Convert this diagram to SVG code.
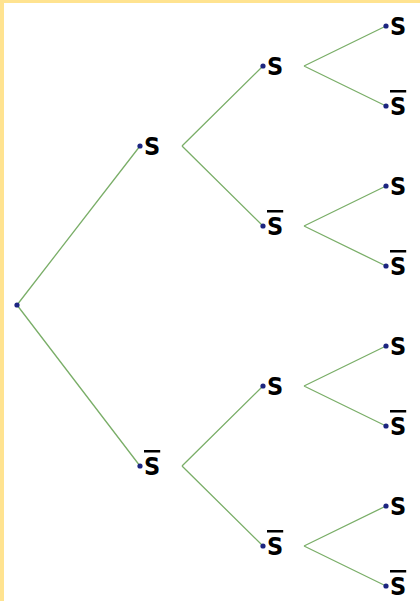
<svg xmlns="http://www.w3.org/2000/svg" width="420" height="601" viewBox="0 0 420 601">
<style>
.e{stroke:#7aae68;stroke-width:1.3;fill:none}
.d{fill:#1c2580}
.t{font-family:"DejaVu Sans Condensed","DejaVu Sans",sans-serif;font-weight:bold;font-size:25px;fill:#000}
.o{text-decoration:overline}
</style>
<rect x="0" y="0" width="420" height="601" fill="#ffe390"/>
<rect x="4" y="3" width="416" height="598" fill="#fff"/>
<g id="connectors">
<path class="e" d="M17,305 L140,146 M17,305 L140,466"/>
<path class="e" d="M182,146 L263,66 M182,146 L263,226 M182,466 L263,386 M182,466 L263,546"/>
<path class="e" d="M304,66 L386,26 M304,66 L386,106 M304,226 L386,186 M304,226 L386,266 M304,386 L386,346 M304,386 L386,426 M304,546 L386,506 M304,546 L386,586"/>
</g>
<g id="root"><circle class="d" cx="17" cy="305" r="2.6"/></g>
<g id="n1"><circle class="d" cx="140" cy="146" r="2.6"/><text class="t" x="144" y="155">S</text></g>
<g id="n2"><circle class="d" cx="140" cy="466" r="2.6"/><text class="t o" x="144" y="475">S</text></g>
<g id="n11"><circle class="d" cx="263" cy="66" r="2.6"/><text class="t" x="267" y="75">S</text></g>
<g id="n12"><circle class="d" cx="263" cy="226" r="2.6"/><text class="t o" x="267" y="235">S</text></g>
<g id="n21"><circle class="d" cx="263" cy="386" r="2.6"/><text class="t" x="267" y="395">S</text></g>
<g id="n22"><circle class="d" cx="263" cy="546" r="2.6"/><text class="t o" x="267" y="555">S</text></g>
<g id="l1"><circle class="d" cx="386" cy="26" r="2.6"/><text class="t" x="390" y="35">S</text></g>
<g id="l2"><circle class="d" cx="386" cy="106" r="2.6"/><text class="t o" x="390" y="115">S</text></g>
<g id="l3"><circle class="d" cx="386" cy="186" r="2.6"/><text class="t" x="390" y="195">S</text></g>
<g id="l4"><circle class="d" cx="386" cy="266" r="2.6"/><text class="t o" x="390" y="275">S</text></g>
<g id="l5"><circle class="d" cx="386" cy="346" r="2.6"/><text class="t" x="390" y="355">S</text></g>
<g id="l6"><circle class="d" cx="386" cy="426" r="2.6"/><text class="t o" x="390" y="435">S</text></g>
<g id="l7"><circle class="d" cx="386" cy="506" r="2.6"/><text class="t" x="390" y="515">S</text></g>
<g id="l8"><circle class="d" cx="386" cy="586" r="2.6"/><text class="t o" x="390" y="595">S</text></g>
</svg>
